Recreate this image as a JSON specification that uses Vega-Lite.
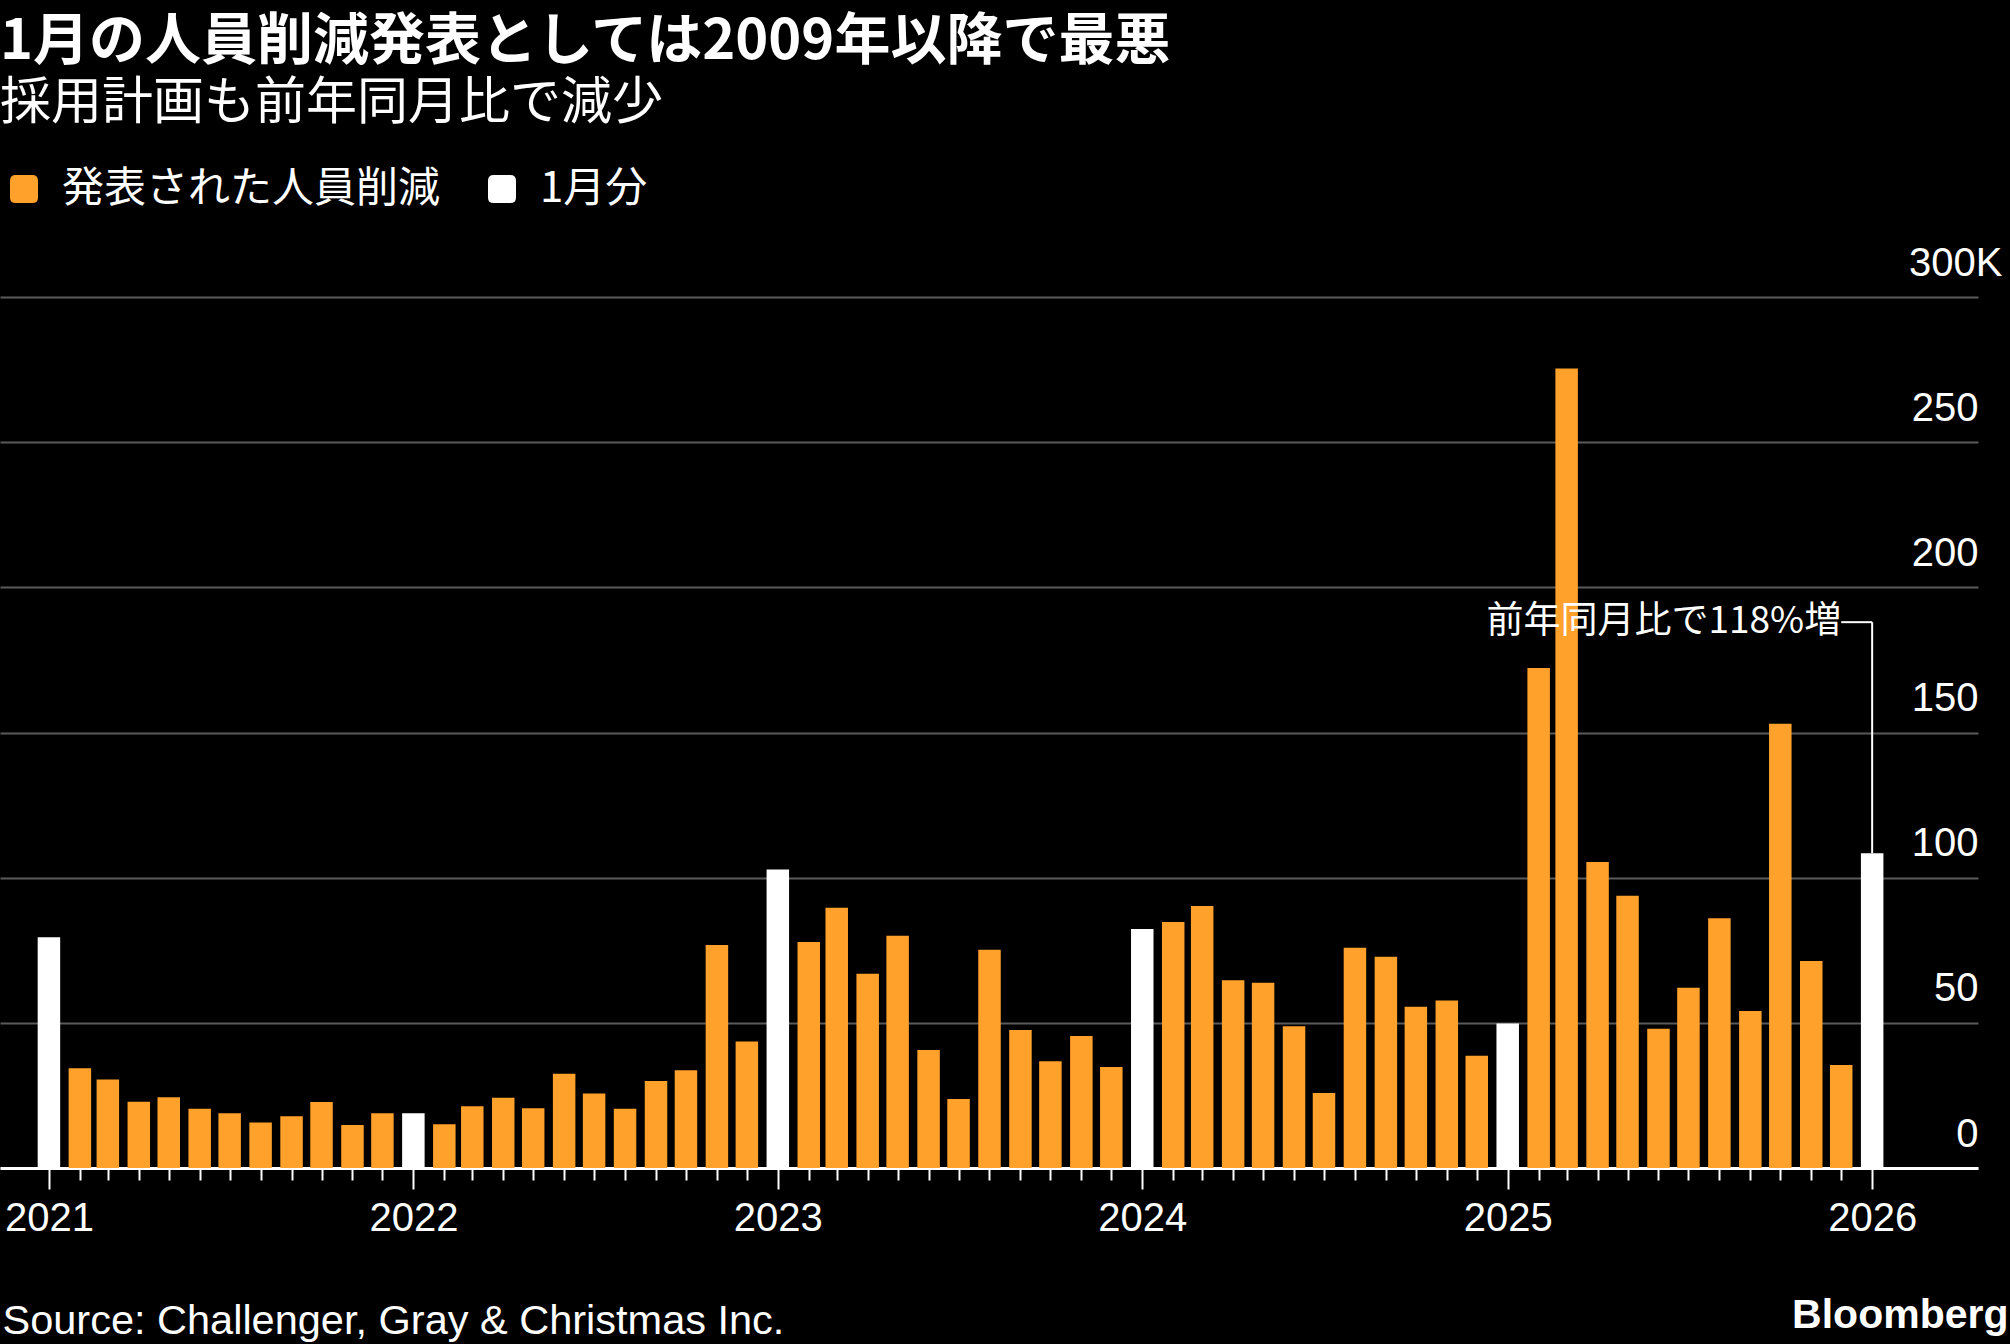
{
  "$schema": "https://vega.github.io/schema/vega-lite/v6.json",
  "width": 1978,
  "height": 871,
  "autosize": {"type": "none"},
  "padding": {"left": 0, "top": 297, "right": 32, "bottom": 176},
  "background": "#000000",
  "config": {
    "view": {"stroke": null},
    "font": "Liberation Sans"
  },
  "title": {
    "text": "1月の人員削減発表としては2009年以降で最悪",
    "subtitle": "採用計画も前年同月比で減少",
    "anchor": "start",
    "orient": "top",
    "offset": 38,
    "font": "Noto Sans CJK JP",
    "fontSize": 56,
    "fontWeight": "bold",
    "color": "#ffffff",
    "subtitleFont": "Noto Sans CJK JP",
    "subtitleFontSize": 51,
    "subtitleFontWeight": "normal",
    "subtitleColor": "#ffffff",
    "subtitlePadding": 8
  },
  "datasets": {
    "layoffs": [
      {"month": "2021-01-01", "layoffs": 79.5, "series": "1月分"},
      {"month": "2021-02-01", "layoffs": 34.4, "series": "発表された人員削減"},
      {"month": "2021-03-01", "layoffs": 30.5, "series": "発表された人員削減"},
      {"month": "2021-04-01", "layoffs": 22.8, "series": "発表された人員削減"},
      {"month": "2021-05-01", "layoffs": 24.4, "series": "発表された人員削減"},
      {"month": "2021-06-01", "layoffs": 20.4, "series": "発表された人員削減"},
      {"month": "2021-07-01", "layoffs": 18.9, "series": "発表された人員削減"},
      {"month": "2021-08-01", "layoffs": 15.7, "series": "発表された人員削減"},
      {"month": "2021-09-01", "layoffs": 17.8, "series": "発表された人員削減"},
      {"month": "2021-10-01", "layoffs": 22.7, "series": "発表された人員削減"},
      {"month": "2021-11-01", "layoffs": 14.8, "series": "発表された人員削減"},
      {"month": "2021-12-01", "layoffs": 18.9, "series": "発表された人員削減"},
      {"month": "2022-01-01", "layoffs": 18.9, "series": "1月分"},
      {"month": "2022-02-01", "layoffs": 15.1, "series": "発表された人員削減"},
      {"month": "2022-03-01", "layoffs": 21.3, "series": "発表された人員削減"},
      {"month": "2022-04-01", "layoffs": 24.2, "series": "発表された人員削減"},
      {"month": "2022-05-01", "layoffs": 20.6, "series": "発表された人員削減"},
      {"month": "2022-06-01", "layoffs": 32.5, "series": "発表された人員削減"},
      {"month": "2022-07-01", "layoffs": 25.7, "series": "発表された人員削減"},
      {"month": "2022-08-01", "layoffs": 20.4, "series": "発表された人員削減"},
      {"month": "2022-09-01", "layoffs": 30.0, "series": "発表された人員削減"},
      {"month": "2022-10-01", "layoffs": 33.7, "series": "発表された人員削減"},
      {"month": "2022-11-01", "layoffs": 76.8, "series": "発表された人員削減"},
      {"month": "2022-12-01", "layoffs": 43.6, "series": "発表された人員削減"},
      {"month": "2023-01-01", "layoffs": 102.8, "series": "1月分"},
      {"month": "2023-02-01", "layoffs": 77.8, "series": "発表された人員削減"},
      {"month": "2023-03-01", "layoffs": 89.6, "series": "発表された人員削減"},
      {"month": "2023-04-01", "layoffs": 66.9, "series": "発表された人員削減"},
      {"month": "2023-05-01", "layoffs": 80.0, "series": "発表された人員削減"},
      {"month": "2023-06-01", "layoffs": 40.6, "series": "発表された人員削減"},
      {"month": "2023-07-01", "layoffs": 23.8, "series": "発表された人員削減"},
      {"month": "2023-08-01", "layoffs": 75.2, "series": "発表された人員削減"},
      {"month": "2023-09-01", "layoffs": 47.5, "series": "発表された人員削減"},
      {"month": "2023-10-01", "layoffs": 36.8, "series": "発表された人員削減"},
      {"month": "2023-11-01", "layoffs": 45.5, "series": "発表された人員削減"},
      {"month": "2023-12-01", "layoffs": 34.8, "series": "発表された人員削減"},
      {"month": "2024-01-01", "layoffs": 82.3, "series": "1月分"},
      {"month": "2024-02-01", "layoffs": 84.7, "series": "発表された人員削減"},
      {"month": "2024-03-01", "layoffs": 90.2, "series": "発表された人員削減"},
      {"month": "2024-04-01", "layoffs": 64.7, "series": "発表された人員削減"},
      {"month": "2024-05-01", "layoffs": 63.8, "series": "発表された人員削減"},
      {"month": "2024-06-01", "layoffs": 48.8, "series": "発表された人員削減"},
      {"month": "2024-07-01", "layoffs": 25.8, "series": "発表された人員削減"},
      {"month": "2024-08-01", "layoffs": 75.9, "series": "発表された人員削減"},
      {"month": "2024-09-01", "layoffs": 72.8, "series": "発表された人員削減"},
      {"month": "2024-10-01", "layoffs": 55.5, "series": "発表された人員削減"},
      {"month": "2024-11-01", "layoffs": 57.7, "series": "発表された人員削減"},
      {"month": "2024-12-01", "layoffs": 38.7, "series": "発表された人員削減"},
      {"month": "2025-01-01", "layoffs": 49.8, "series": "1月分"},
      {"month": "2025-02-01", "layoffs": 172.2, "series": "発表された人員削減"},
      {"month": "2025-03-01", "layoffs": 275.4, "series": "発表された人員削減"},
      {"month": "2025-04-01", "layoffs": 105.4, "series": "発表された人員削減"},
      {"month": "2025-05-01", "layoffs": 93.8, "series": "発表された人員削減"},
      {"month": "2025-06-01", "layoffs": 48.0, "series": "発表された人員削減"},
      {"month": "2025-07-01", "layoffs": 62.1, "series": "発表された人員削減"},
      {"month": "2025-08-01", "layoffs": 86.0, "series": "発表された人員削減"},
      {"month": "2025-09-01", "layoffs": 54.1, "series": "発表された人員削減"},
      {"month": "2025-10-01", "layoffs": 153.0, "series": "発表された人員削減"},
      {"month": "2025-11-01", "layoffs": 71.3, "series": "発表された人員削減"},
      {"month": "2025-12-01", "layoffs": 35.5, "series": "発表された人員削減"},
      {"month": "2026-01-01", "layoffs": 108.4, "series": "1月分"}
    ]
  },
  "layer": [
    {
      "data": {"name": "layoffs"},
      "mark": {"type": "bar", "width": 22.5},
      "encoding": {
        "x": {
          "field": "month",
          "type": "temporal",
          "scale": {
            "type": "utc",
            "padding": 0,
            "domain": [
              {"year": 2020, "month": 11, "date": 13, "utc": true},
              {"year": 2026, "month": 4, "date": 17, "utc": true}
            ]
          },
          "axis": {
            "orient": "bottom",
            "tickCount": {"interval": "month", "step": 1},
            "grid": false,
            "domain": true,
            "domainColor": "#ffffff",
            "domainWidth": 3,
            "ticks": true,
            "tickColor": "#ffffff",
            "tickWidth": 2,
            "tickSize": {"condition": {"test": "utcmonth(datum.value) === 0", "value": 21}, "value": 12},
            "tickOpacity": {"condition": {"test": "datum.value < utc(2021, 0, 1) || datum.value > utc(2026, 0, 1)", "value": 0}, "value": 1},
            "labelExpr": "utcmonth(datum.value) === 0 ? utcFormat(datum.value, '%Y') : ''",
            "labelFont": "Liberation Sans",
            "labelFontSize": 40,
            "labelColor": "#ffffff",
            "labelAlign": "center",
            "labelBaseline": "alphabetic",
            "labelPadding": 41,
            "labelFlush": false,
            "labelOverlap": false,
            "labelBound": false,
            "title": "Source: Challenger, Gray & Christmas Inc.",
            "titleFont": "Liberation Sans",
            "titleFontSize": 41.5,
            "titleFontWeight": "normal",
            "titleColor": "#ffffff",
            "titleAnchor": "start",
            "titleAlign": "left",
            "titleBaseline": "alphabetic",
            "titleX": 2,
            "titleY": 165,
            "titleLimit": 2000
          }
        },
        "y": {
          "field": "layoffs",
          "type": "quantitative",
          "scale": {"domain": [0, 300], "nice": false},
          "axis": {
            "orient": "right",
            "values": [0, 50, 100, 150, 200, 250, 300],
            "grid": true,
            "gridColor": "#5a5a5a",
            "gridWidth": 2,
            "domain": false,
            "ticks": false,
            "labelExpr": "datum.value === 300 ? '300K' : format(datum.value, 'd')",
            "labelAlign": "right",
            "labelBaseline": "alphabetic",
            "labelOffset": -22,
            "labelPadding": {"condition": {"test": "datum.value === 300", "value": 24}, "value": 0},
            "labelFont": "Liberation Sans",
            "labelFontSize": 40,
            "labelColor": "#ffffff",
            "labelFlush": false,
            "labelOverlap": false,
            "labelBound": false,
            "title": "Bloomberg",
            "titleFont": "Liberation Sans",
            "titleFontSize": 41,
            "titleFontWeight": "bold",
            "titleColor": "#ffffff",
            "titleAngle": 0,
            "titleAlign": "right",
            "titleBaseline": "alphabetic",
            "titleX": 30,
            "titleY": 1030,
            "titleLimit": 1000
          }
        },
        "color": {
          "field": "series",
          "type": "nominal",
          "scale": {
            "domain": ["発表された人員削減", "1月分"],
            "range": ["#ffa12b", "#ffffff"]
          },
          "legend": {
            "orient": "none",
            "legendX": 3,
            "legendY": -129,
            "direction": "horizontal",
            "title": null,
            "padding": 0,
            "symbolType": "M-1,-0.6Q-1,-1 -0.6,-1L0.6,-1Q1,-1 1,-0.6L1,0.6Q1,1 0.6,1L-0.6,1Q-1,1 -1,0.6Z",
            "symbolSize": 784,
            "symbolStrokeWidth": 0,
            "symbolOpacity": 1,
            "labelFont": "Noto Sans CJK JP",
            "labelFontSize": 42,
            "labelColor": "#ffffff",
            "labelLimit": 1000,
            "labelOffset": 17,
            "columnPadding": 40
          }
        }
      }
    },
    {
      "data": {"values": [{}]},
      "mark": {"type": "rule", "color": "#ffffff", "strokeWidth": 2},
      "encoding": {
        "x": {"datum": {"year": 2025, "month": 12, "date": 1, "utc": true}, "type": "temporal"},
        "x2": {"datum": {"year": 2026, "month": 1, "date": 1, "utc": true}},
        "y": {"datum": 188, "type": "quantitative"}
      }
    },
    {
      "data": {"values": [{}]},
      "mark": {"type": "rule", "color": "#ffffff", "strokeWidth": 2},
      "encoding": {
        "x": {"datum": {"year": 2026, "month": 1, "date": 1, "utc": true}, "type": "temporal"},
        "y": {"datum": 188, "type": "quantitative"},
        "y2": {"datum": 108.4}
      }
    },
    {
      "data": {"values": [{}]},
      "mark": {
        "type": "text",
        "align": "right",
        "baseline": "middle",
        "font": "Noto Sans CJK JP",
        "fontSize": 37,
        "color": "#ffffff",
        "text": "前年同月比で118%増"
      },
      "encoding": {
        "x": {"datum": {"year": 2025, "month": 12, "date": 1, "utc": true}, "type": "temporal"},
        "y": {"datum": 188, "type": "quantitative"}
      }
    }
  ]
}
